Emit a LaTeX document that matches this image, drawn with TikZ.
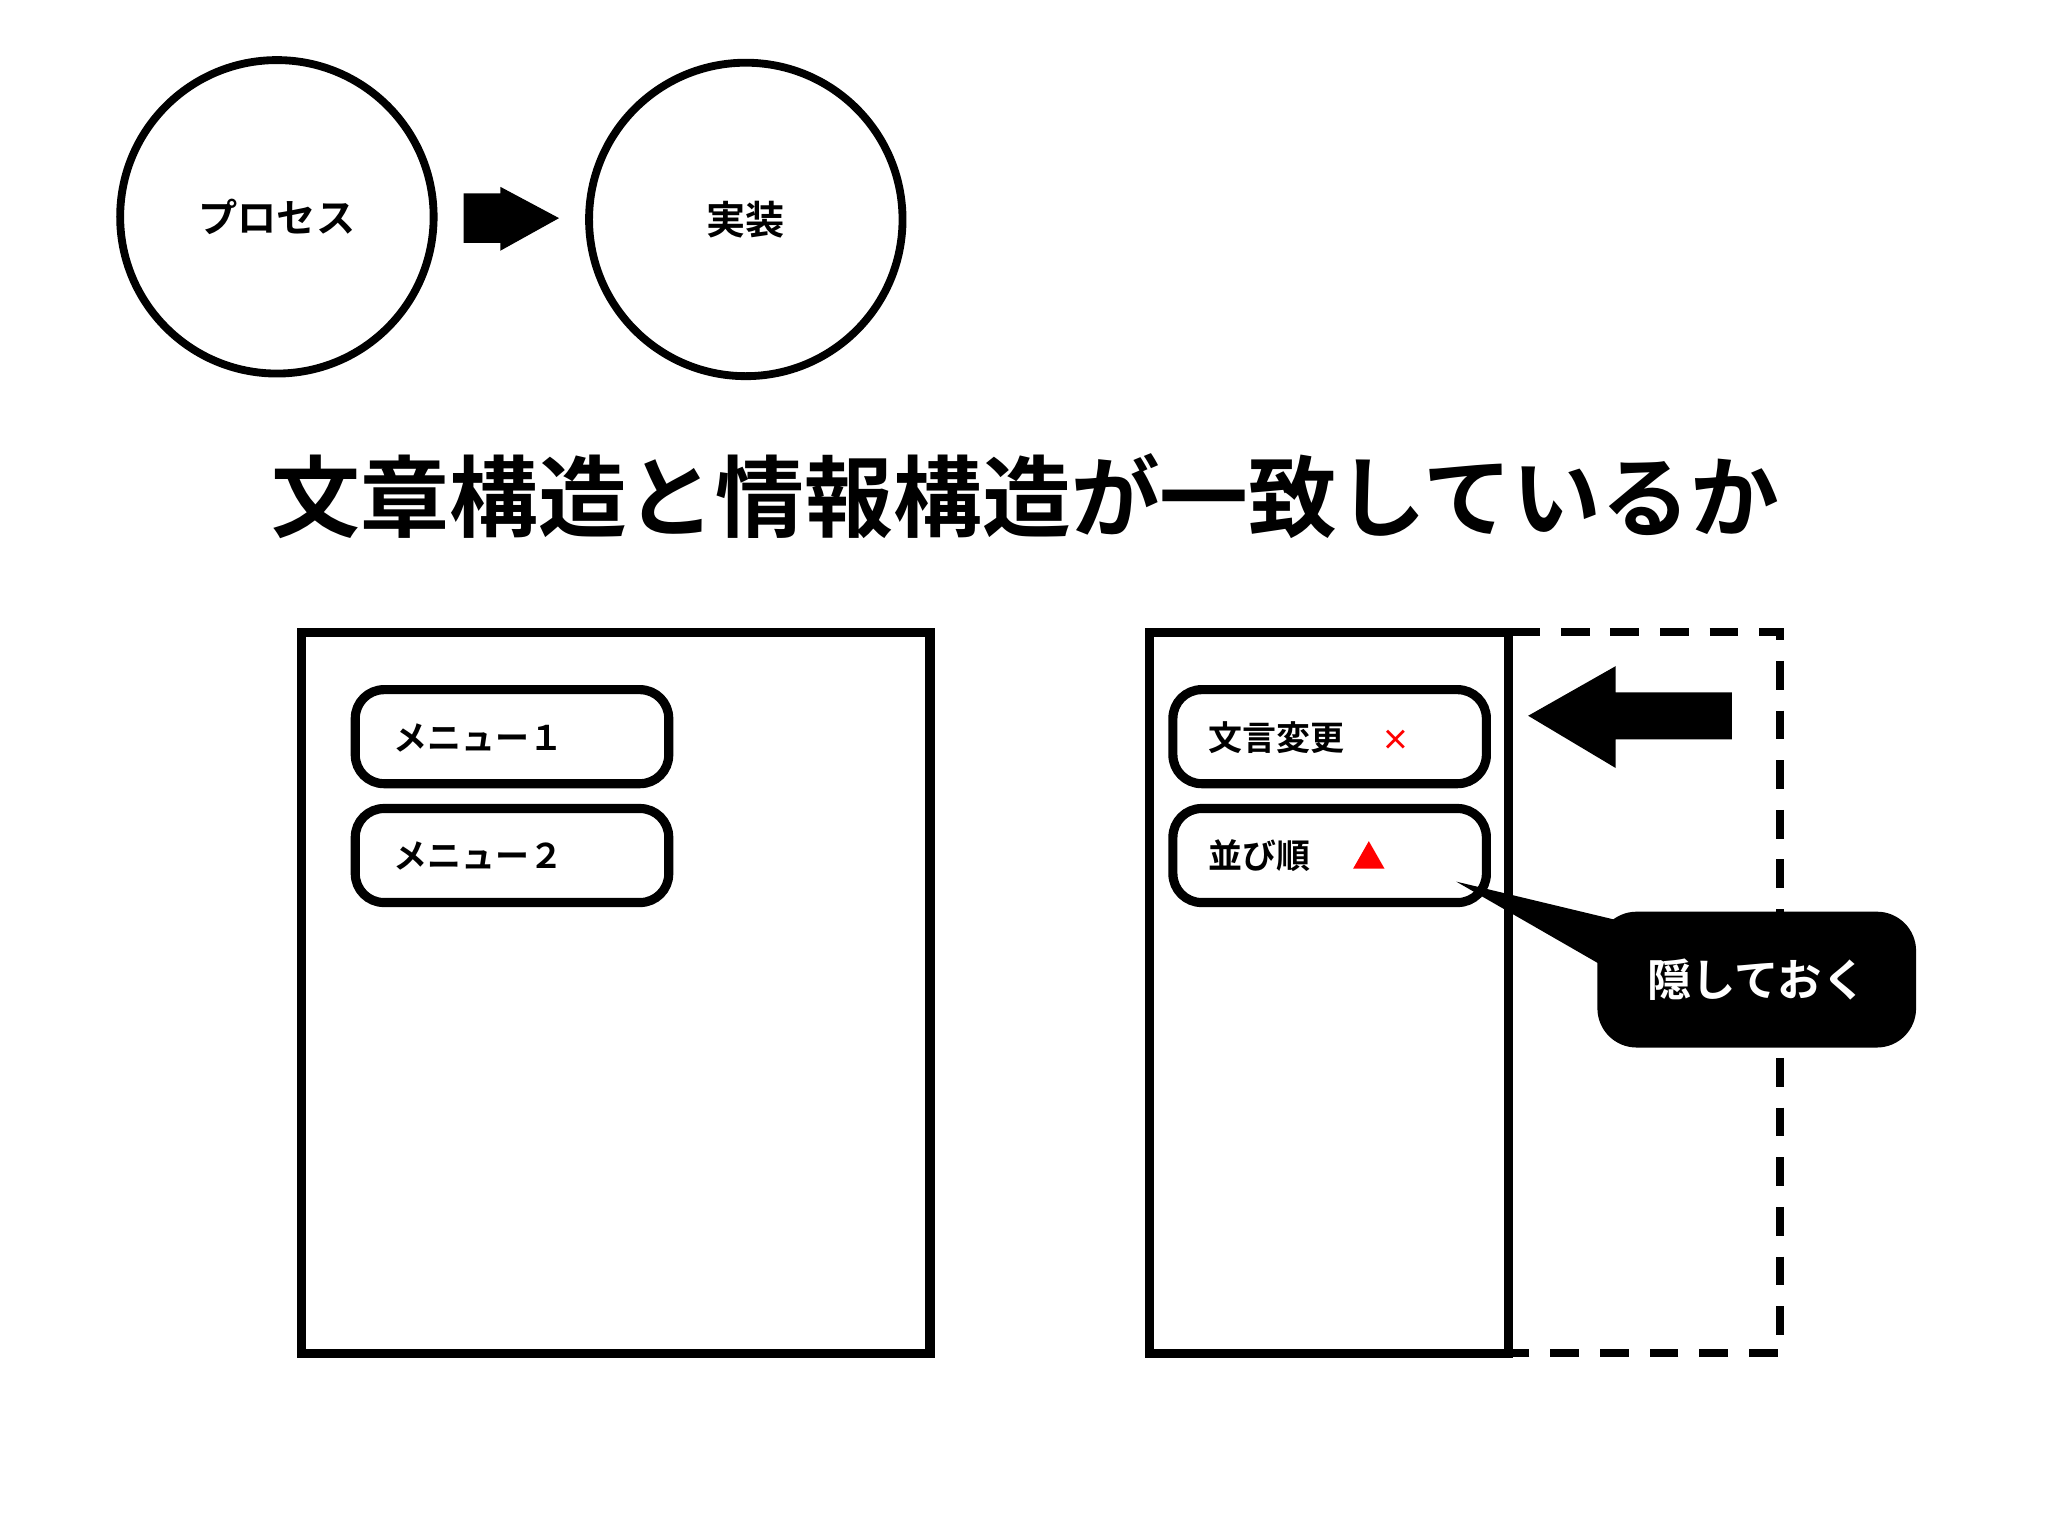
\documentclass[tikz,border=0pt]{standalone}
\usepackage{fontspec}
\setmainfont{Noto Sans CJK JP}[BoldFont={Noto Sans CJK JP Bold}]
\begin{document}
\begin{tikzpicture}[x=1pt,y=-1pt,
  circ/.style={draw,line width=6pt,circle,minimum size=240pt,font=\bfseries\fontsize{30}{30}\selectfont},
  frame/.style={draw,line width=7pt},
  item/.style={draw,line width=7pt,rounded corners=22pt,minimum width=240pt,minimum height=72pt},
  lab/.style={font=\bfseries\fontsize{26}{26}\selectfont,anchor=west}]
\useasboundingbox (0,0) rectangle (1568,1176);
\node[circ] (p) at (212,166) {プロセス};
\node[circ] (j) at (571,168) {実装};
\fill (355,148) -- (383,148) -- (383,143) -- (428,167) -- (383,192) -- (383,186) -- (355,186) -- cycle;
\node[font=\bfseries\fontsize{68}{68}\selectfont] (t) at (785,380) {文章構造と情報構造が一致しているか};
\draw[frame] (231,484) rectangle (712,1036);
\node[item] (m1) at (392,564) {};
\node[lab] at (298,565) {メニュー１};
\node[item] (m2) at (392,655) {};
\node[lab] at (298,655) {メニュー２};
\draw[line width=6pt,dash pattern=on 22pt off 16pt] (1157,484) -- (1363,484) -- (1363,1036) -- (1157,1036);
\draw[frame] (880,484) rectangle (1155,1036);
\node[item] (a1) at (1018,564) {};
\node[lab] at (922,565) {文言変更};
\node[text=red,font=\bfseries\fontsize{22}{22}\selectfont] at (1069,567) {×};
\node[item] (a2) at (1018,655) {};
\node[lab] at (922,655) {並び順};
\fill[red] (1036,665) -- (1060,665) -- (1048,644) -- cycle;
\fill (1170,548) -- (1237,510) -- (1237,530) -- (1326,530) -- (1326,566) -- (1237,566) -- (1237,588) -- cycle;
\node[fill=black,rounded corners=30pt,minimum width=244pt,minimum height=104pt,text=white,font=\bfseries\fontsize{34}{34}\selectfont] (c) at (1345,750) {隠しておく};
\coordinate (tip) at (1115,675);
\fill (tip) -- (1240,705) -- (1228,740) -- cycle;
\end{tikzpicture}
\end{document}
